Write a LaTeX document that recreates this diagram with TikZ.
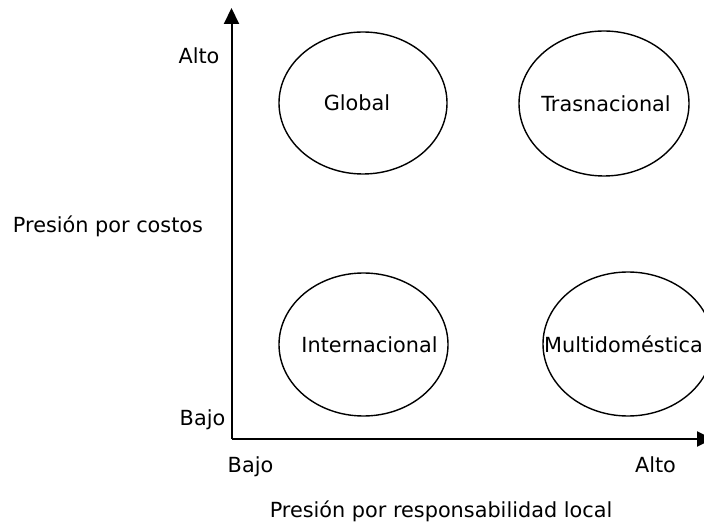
\documentclass[tikz,border=0pt]{standalone}
\usepackage{fontspec}
\setmainfont{DejaVu Sans}
\usetikzlibrary{arrows.meta,shapes.geometric}
\begin{document}
\begin{tikzpicture}[x=1pt,y=-1pt,
  lbl/.style={font=\fontsize{20.8}{24}\selectfont, inner sep=0pt, anchor=base},
  txt/.style={font=\fontsize{20.8}{24}\selectfont, inner sep=0pt},
  oval/.style={draw=black, line width=1.4pt, ellipse, inner sep=0pt},
  axis/.style={draw=black, line width=2pt, -{Triangle[length=16pt,width=15pt]}}]
\useasboundingbox (0,0) rectangle (704,526);
\coordinate (O) at (231.5,439);
\coordinate (ytop) at (231.5,8);
\coordinate (xend) at (713,439);
\draw[axis] (O) -- (ytop);
\draw[axis] (O) -- (xend);
\node[oval, minimum width=168pt, minimum height=142pt] (glob) at (363,103) {};
\node[oval, minimum width=170pt, minimum height=145pt] (tras) at (604,103.5) {};
\node[oval, minimum width=169pt, minimum height=143pt] (inter) at (363.5,344.5) {};
\node[oval, minimum width=170pt, minimum height=144pt] (multi) at (628,344) {};
\node[txt] (globt) at ([xshift=-6pt]glob.center) {Global};
\node[txt] (trast) at ([xshift=2pt]tras.center) {Trasnacional};
\node[txt] (intert) at ([xshift=6pt]inter.center) {Internacional};
\node[txt] (multit) at ([xshift=-4.5pt]multi.center) {Multidoméstica};
\node[lbl] (yalto) at (199,64) {Alto};
\node[lbl] (ybajo) at (202.5,425) {Bajo};
\node[lbl] (xbajo) at (250.5,472) {Bajo};
\node[lbl] (xalto) at (655.5,472) {Alto};
\node[lbl] (ylab) at (108,233) {Presión por costos};
\node[lbl] (xlab) at (441,517) {Presión por responsabilidad local};
\end{tikzpicture}
\end{document}
